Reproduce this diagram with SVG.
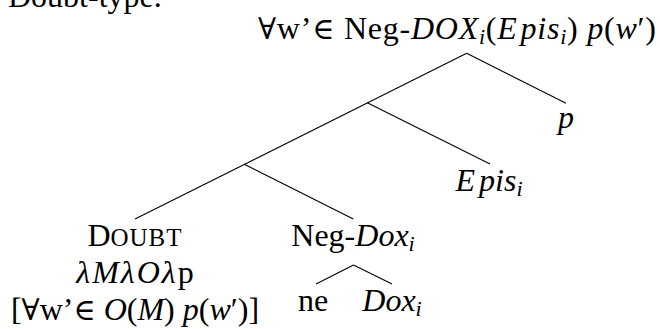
<svg xmlns="http://www.w3.org/2000/svg" width="660" height="329" viewBox="0 0 660 329">
<style>
text{font-family:"Liberation Serif","DejaVu Serif",serif;font-size:32px;fill:#000}
.it{font-style:italic}
.sub{font-size:22px;font-style:italic}
.sc{font-size:25px;letter-spacing:1px}
.sym{font-size:30px}
.lam{letter-spacing:2px}
line{stroke:#000;stroke-width:1.1}
</style>
<rect width="660" height="329" fill="#fff"/>
<text x="8" y="7">Doubt-type.</text>
<g id="connectors">
<line x1="466.7" y1="53.3" x2="135" y2="219"/>
<line x1="466.7" y1="53.3" x2="566" y2="103.3"/>
<line x1="367.3" y1="102.7" x2="490" y2="164"/>
<line x1="244.3" y1="164.3" x2="353.3" y2="219"/>
<line x1="353.5" y1="265" x2="316" y2="284"/>
<line x1="353.5" y1="265" x2="392" y2="284"/>
</g>
<g id="root"><text x="258" y="39" textLength="398" lengthAdjust="spacing"><tspan class="sym">∀</tspan>w’<tspan class="sym">∈</tspan> Neg-<tspan class="it">DOX</tspan><tspan class="sub" dy="5">i</tspan><tspan dy="-5">(</tspan><tspan class="it">E</tspan><tspan class="it" dx="3">pis</tspan><tspan class="sub" dy="5">i</tspan><tspan dy="-5">)</tspan> <tspan class="it">p</tspan>(<tspan class="it">w</tspan>′)</text></g>
<g id="node-p"><text x="566" y="128" text-anchor="middle" class="it">p</text></g>
<g id="node-epis"><text x="489" y="191" text-anchor="middle"><tspan class="it">E</tspan><tspan class="it" dx="4">pis</tspan><tspan class="sub" dy="5">i</tspan></text></g>
<g id="node-doubt">
<text x="135" y="246" text-anchor="middle">D<tspan class="sc">OUBT</tspan></text>
<text x="136" y="283" text-anchor="middle" class="lam"><tspan class="it">λM</tspan><tspan class="it">λO</tspan><tspan class="it">λ</tspan>p</text>
<text x="135" y="320" text-anchor="middle">[<tspan class="sym">∀</tspan>w’<tspan class="sym">∈</tspan> <tspan class="it">O</tspan>(<tspan class="it">M</tspan>) <tspan class="it">p</tspan>(<tspan class="it">w</tspan>′)]</text>
</g>
<g id="node-negdox"><text x="353" y="246" text-anchor="middle">Neg-<tspan class="it">Dox</tspan><tspan class="sub" dy="5">i</tspan></text></g>
<g id="node-ne"><text x="313" y="311" text-anchor="middle">ne</text></g>
<g id="node-dox"><text x="392" y="311" text-anchor="middle"><tspan class="it">Dox</tspan><tspan class="sub" dy="5">i</tspan></text></g>
</svg>
